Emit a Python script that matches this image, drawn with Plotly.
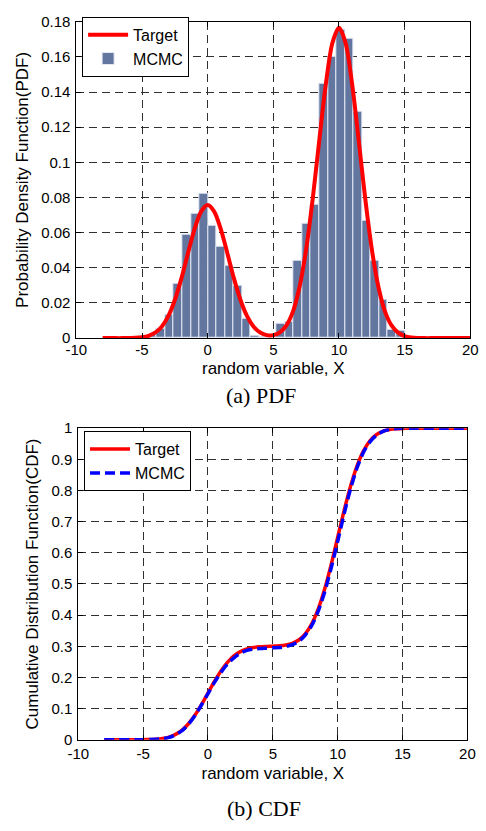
import plotly.graph_objects as go

# ---------------- data ----------------
bin_centers = [-4.214, -3.562, -2.910, -2.258, -1.606, -0.954, -0.302, 0.350, 1.002, 1.654,
               2.306, 2.958, 3.610, 4.262, 4.914, 5.566, 6.218, 6.870, 7.522, 8.174,
               8.826, 9.478, 10.130, 10.782, 11.434, 12.086, 12.738, 13.390, 14.042, 14.694]
bin_density = [0.0017, 0.0056, 0.0133, 0.0310, 0.0587, 0.0707, 0.0824, 0.0637, 0.0518, 0.0410,
               0.0296, 0.0111, 0.0013, 0.0010, 0.0015, 0.0083, 0.0093, 0.0439, 0.0648, 0.0759,
               0.1449, 0.1600, 0.1753, 0.1703, 0.1290, 0.0670, 0.0439, 0.0216, 0.0045, 0.0040]
bin_width = 0.652

x_grid = [-8, -7.5, -7, -6.5, -6, -5.5, -5, -4.5, -4, -3.5, -3, -2.5, -2, -1.5, -1, -0.5,
          0, 0.5, 1, 1.5, 2, 2.5, 3, 3.5, 4, 4.5, 5, 5.5, 6, 6.5, 7, 7.5, 8, 8.5, 9, 9.5,
          10, 10.5, 11, 11.5, 12, 12.5, 13, 13.5, 14, 14.5, 15, 15.5, 16, 16.5, 17, 17.5,
          18, 18.5, 19, 19.5, 20]
target_pdf = [0, 0, 0, 0, 0.0001, 0.0002, 0.0005, 0.0013, 0.0031, 0.0065, 0.0125, 0.0217,
              0.0340, 0.0483, 0.0620, 0.0720, 0.0757, 0.0720, 0.0620, 0.0483, 0.0340, 0.0217,
              0.0125, 0.0065, 0.0032, 0.0017, 0.0017, 0.0033, 0.0073, 0.0152, 0.0292, 0.0506,
              0.0793, 0.1126, 0.1446, 0.1680, 0.1766, 0.1680, 0.1446, 0.1126, 0.0793, 0.0506,
              0.0292, 0.0152, 0.0072, 0.0031, 0.0012, 0.0004, 0.0001, 0, 0, 0, 0, 0, 0, 0, 0]
target_cdf = [0, 0, 0, 0, 0, 0.0001, 0.0002, 0.0007, 0.0017, 0.0041, 0.0086, 0.0171,
              0.0309, 0.0514, 0.0791, 0.1128, 0.1500, 0.1872, 0.2209, 0.2486, 0.2691, 0.2829,
              0.2914, 0.2959, 0.2983, 0.2995, 0.3004, 0.3015, 0.3040, 0.3095, 0.3201, 0.3400,
              0.3721, 0.4200, 0.4846, 0.5632, 0.6500, 0.7368, 0.8154, 0.8800, 0.9279, 0.9600,
              0.9799, 0.9906, 0.9960, 0.9985, 0.9994, 0.9998, 1, 1, 1, 1, 1, 1, 1, 1, 1]
mcmc_cdf = [0, 0, 0, 0, 0, 0, 0.0003, 0.0008, 0.0015, 0.0035, 0.0075, 0.0160,
            0.0290, 0.0500, 0.0780, 0.1120, 0.1480, 0.1840, 0.2160, 0.2430, 0.2630, 0.2780,
            0.2870, 0.2910, 0.2930, 0.2940, 0.2950, 0.2960, 0.2990, 0.3050, 0.3160, 0.3360,
            0.3670, 0.4130, 0.4750, 0.5520, 0.6370, 0.7260, 0.8070, 0.8740, 0.9240, 0.9570,
            0.9780, 0.9900, 0.9960, 0.9990, 1, 1, 1, 1, 1, 1, 1, 1, 1, 1, 1]

x_ticks = [-10, -5, 0, 5, 10, 15, 20]
x_ticklabels = ["-10", "-5", "0", "5", "10", "15", "20"]
pdf_ticks = [0, 0.02, 0.04, 0.06, 0.08, 0.10, 0.12, 0.14, 0.16, 0.18]
pdf_ticklabels = ["0", "0.02", "0.04", "0.06", "0.08", "0.1", "0.12", "0.14", "0.16", "0.18"]
cdf_ticks = [0, 0.1, 0.2, 0.3, 0.4, 0.5, 0.6, 0.7, 0.8, 0.9, 1]
cdf_ticklabels = ["0", "0.1", "0.2", "0.3", "0.4", "0.5", "0.6", "0.7", "0.8", "0.9", "1"]

# ---------------- figure ----------------
SANS = "Liberation Sans, Arial, sans-serif"
SERIF = "Liberation Serif, Times New Roman, serif"

fig = go.Figure()
fig.add_trace(go.Bar(
    x=bin_centers, y=bin_density, width=bin_width, name="MCMC",
    marker=dict(color="#6276a0", line=dict(color="#e4e8f3", width=1)),
    xaxis="x", yaxis="y", legend="legend"))
fig.add_trace(go.Scatter(
    x=x_grid, y=target_pdf, mode="lines", name="Target",
    line=dict(color="#ff0000", width=4, shape="spline", smoothing=0.8),
    xaxis="x", yaxis="y", legend="legend"))
fig.add_trace(go.Scatter(
    x=x_grid, y=target_cdf, mode="lines", name="Target",
    line=dict(color="#ff0000", width=3.5, shape="spline", smoothing=0.8),
    xaxis="x2", yaxis="y2", legend="legend2"))
fig.add_trace(go.Scatter(
    x=x_grid, y=mcmc_cdf, mode="lines", name="MCMC",
    line=dict(color="#0000ff", width=3.5, dash="10px,5px", shape="spline", smoothing=0.8),
    xaxis="x2", yaxis="y2", legend="legend2"))

axis_common = dict(
    showline=True, linecolor="black", linewidth=1, mirror="ticks",
    ticks="inside", ticklen=5, tickcolor="black", tickwidth=1,
    showgrid=True, gridcolor="#303030", gridwidth=1, griddash="8px,5px",
    zeroline=False, tickfont=dict(family=SANS, size=15, color="black"),
)

fig.update_layout(
    width=486, height=831,
    margin=dict(l=0, r=0, t=0, b=0),
    paper_bgcolor="white", plot_bgcolor="white",
    font=dict(family=SANS, color="black"),
    bargap=0,
    showlegend=True,
    xaxis=dict(axis_common, domain=[68 / 486, 478 / 486], range=[-10, 20],
               tickvals=x_ticks, ticktext=x_ticklabels, anchor="y", ticklabelstandoff=-2,
               title=dict(text="random variable, X", font=dict(size=17), standoff=4)),
    yaxis=dict(axis_common, domain=[1 - 336 / 831, 1 - 13 / 831], range=[0, 0.18],
               tickvals=pdf_ticks, ticktext=pdf_ticklabels, anchor="x", ticklabelstandoff=2,
               title=dict(text="Probability Density Function(PDF)", font=dict(size=17), standoff=8)),
    xaxis2=dict(axis_common, domain=[70 / 486, 475 / 486], range=[-10, 20],
                tickvals=x_ticks, ticktext=x_ticklabels, anchor="y2",
                title=dict(text="random variable, X", font=dict(size=17), standoff=6)),
    yaxis2=dict(axis_common, domain=[1 - 746 / 831, 1 - 428 / 831], range=[0, 1],
                tickvals=cdf_ticks, ticktext=cdf_ticklabels, anchor="x2", ticklabelstandoff=2,
                title=dict(text="Cumulative Distribution Function(CDF)", font=dict(size=17), standoff=8)),
    legend=dict(x=74 / 486, y=1 - 8 / 831, xanchor="left", yanchor="top",
                bgcolor="white", bordercolor="black", borderwidth=1, itemwidth=40,
                traceorder="reversed", font=dict(family=SANS, size=16)),
    legend2=dict(x=76 / 486, y=1 - 431 / 831, xanchor="left", yanchor="top",
                 bgcolor="white", bordercolor="black", borderwidth=1, itemwidth=40,
                 traceorder="normal", font=dict(family=SANS, size=16)),
    annotations=[
        dict(text="(a) PDF", x=260 / 486, y=1 - 395 / 831, xref="paper", yref="paper",
             xanchor="center", yanchor="middle", showarrow=False,
             font=dict(family=SERIF, size=22, color="black")),
        dict(text="(b) CDF", x=263 / 486, y=1 - 816 / 831, xref="paper", yref="paper",
             xanchor="center", yanchor="middle", showarrow=False,
             font=dict(family=SERIF, size=22, color="black")),
    ],
)

fig.write_html("out.html")
